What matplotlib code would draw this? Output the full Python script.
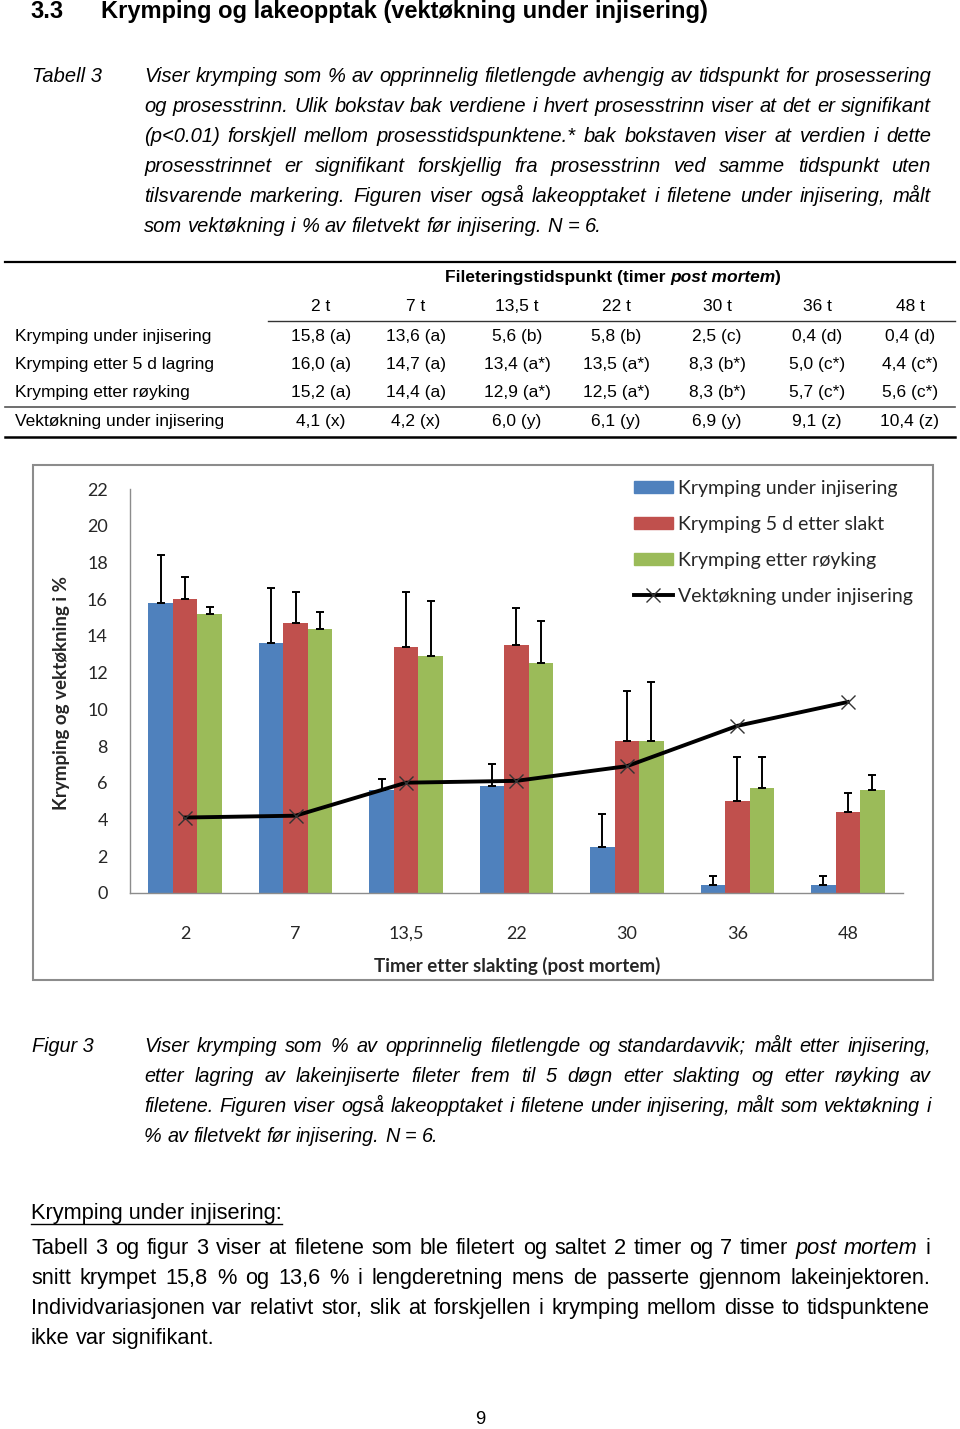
import numpy as np
import matplotlib
matplotlib.use('Agg')
import matplotlib.pyplot as plt
from matplotlib.patches import Rectangle, Patch
from matplotlib.lines import Line2D

# ---- data (tabell 3 / figur 3) ----
tider = ['2', '7', '13,5', '22', '30', '36', '48']
tid_kol = ['2 t', '7 t', '13,5 t', '22 t', '30 t', '36 t', '48 t']
kr_inj = [15.8, 13.6, 5.6, 5.8, 2.5, 0.4, 0.4]
kr_lag = [16.0, 14.7, 13.4, 13.5, 8.3, 5.0, 4.4]
kr_roy = [15.2, 14.4, 12.9, 12.5, 8.3, 5.7, 5.6]
vekt = [4.1, 4.2, 6.0, 6.1, 6.9, 9.1, 10.4]
sd_inj = [2.6, 3.0, 0.6, 1.2, 1.8, 0.5, 0.5]
sd_lag = [1.2, 1.7, 3.0, 2.0, 2.7, 2.4, 1.05]
sd_roy = [0.4, 0.9, 3.0, 2.3, 3.2, 1.7, 0.8]
bok_inj = ['a', 'a', 'b', 'b', 'c', 'd', 'd']
bok_lag = ['a', 'a', 'a*', 'a*', 'b*', 'c*', 'c*']
bok_roy = ['a', 'a', 'a*', 'a*', 'b*', 'c*', 'c*']
bok_vekt = ['x', 'x', 'y', 'y', 'y', 'z', 'z']
rad_navn = ['Krymping under injisering', 'Krymping etter 5 d lagring',
            'Krymping etter røyking', 'Vektøkning under injisering']
leg_navn = ['Krymping under injisering', 'Krymping 5 d etter slakt',
            'Krymping etter røyking', 'Vektøkning under injisering']

tab_tekst = ["Viser krymping som % av opprinnelig filetlengde avhengig av tidspunkt for prosessering",
             "og prosesstrinn. Ulik bokstav bak verdiene i hvert prosesstrinn viser at det er signifikant",
             "(p<0.01) forskjell mellom prosesstidspunktene.* bak bokstaven viser at verdien i dette",
             "prosesstrinnet er signifikant forskjellig fra prosesstrinn ved samme tidspunkt uten",
             "tilsvarende markering. Figuren viser også lakeopptaket i filetene under injisering, målt",
             "som vektøkning i % av filetvekt før injisering. N = 6."]
fig_tekst = ["Viser krymping som % av opprinnelig filetlengde og standardavvik; målt etter injisering,",
             "etter lagring av lakeinjiserte fileter frem til 5 døgn etter slakting og etter røyking av",
             "filetene. Figuren viser også lakeopptaket i filetene under injisering, målt som vektøkning i",
             "% av filetvekt før injisering. N = 6."]
brodtekst = ["Tabell 3 og figur 3 viser at filetene som ble filetert og saltet 2 timer og 7 timer post mortem i",
             "snitt krympet 15,8 % og 13,6 % i lengderetning mens de passerte gjennom lakeinjektoren.",
             "Individvariasjonen var relativt stor, slik at forskjellen i krymping mellom disse to tidspunktene",
             "ikke var signifikant."]

SMAL = ['Liberation Sans Narrow', 'Liberation Sans', 'DejaVu Sans']
ARIAL = ['Liberation Sans', 'DejaVu Sans']
CAL = ['Lato', 'DejaVu Sans']

fig = plt.figure(figsize=(9.6, 14.29), dpi=100)
tx = fig.add_axes([0, 0, 1, 1], zorder=0)
tx.set_xlim(0, 960)
tx.set_ylim(1429, 0)
tx.axis('off')
r = fig.canvas.get_renderer()


def bredde(s, **kw):
    t = tx.text(0, 0, s, **kw)
    w = t.get_window_extent(r).width
    t.remove()
    return w


def tilpass(linjer, mal, fam, style='normal', weight='normal'):
    # font size so that the widest line fits the target width
    w = max(bredde(l, size=10, family=fam, style=style, weight=weight) for l in linjer)
    return 10 * mal / w


def blokk(linjer, x0, x1, y0, dy, size, fam, style='normal', ital=()):
    em = size * 100 / 72
    for i, l in enumerate(linjer):
        yb = round(y0 + i * dy + 0.27 * em)
        ord_ = l.split()
        st = [('italic' if o in ital else style) for o in ord_]
        ws = [bredde(o, size=size, family=fam, style=s) for o, s in zip(ord_, st)]
        if i == len(linjer) - 1:
            gap = bredde('a b', size=size, family=fam, style=style) - bredde('ab', size=size, family=fam, style=style)
        else:
            gap = (x1 - x0 - sum(ws)) / (len(ord_) - 1)
        x = x0
        for o, s, w in zip(ord_, st, ws):
            tx.text(x, yb, o, size=size, family=fam, style=s, va='baseline', ha='left')
            x += w + gap


# ---- overskrift ----
hs = tilpass(['Krymping og lakeopptak (vektøkning under injisering)'], 610, SMAL, weight='bold')
tx.text(30, 12 + 0.27 * hs * 100 / 72, '3.3', size=hs, family=SMAL, weight='bold', va='baseline')
tx.text(101, 12 + 0.27 * hs * 100 / 72, 'Krymping og lakeopptak (vektøkning under injisering)',
        size=hs, family=SMAL, weight='bold', va='baseline')

# ---- tabelltekst ----
cs = tilpass(tab_tekst[:-1], 780, SMAL, style='italic')
tx.text(32, round(77 + 0.27 * cs * 100 / 72), 'Tabell 3', size=cs, family=SMAL, style='italic', va='baseline')
blokk(tab_tekst, 144, 931, 77, 30, cs, SMAL, style='italic')

# ---- tabell ----
ts = 12.5
tx.plot([5, 955], [262, 262], color='black', lw=1.6)
tx.plot([268, 955], [320.5, 320.5], color='#333333', lw=1.0)
tx.plot([5, 955], [406.5, 406.5], color='#555555', lw=1.2)
tx.plot([5, 955], [436.5, 436.5], color='black', lw=1.8)
deler = [('Fileteringstidspunkt (timer ', 'normal'), ('post mortem', 'italic'), (')', 'normal')]
tot = sum(bredde(d, size=ts, family=ARIAL, weight='bold', style=s) for d, s in deler)
x = 613 - tot / 2
for d, s in deler:
    tx.text(x, 277, d, size=ts, family=ARIAL, weight='bold', style=s, va='center', ha='left')
    x += bredde(d, size=ts, family=ARIAL, weight='bold', style=s)
kol_x = [321, 416, 517, 616, 717, 817, 910]
for cx, k in zip(kol_x, tid_kol):
    tx.text(cx, 306, k, size=ts, family=ARIAL, ha='center', va='center')
rad_y = [336, 364, 392, 421]
for yy, navn, verdier, bok in zip(rad_y, rad_navn, [kr_inj, kr_lag, kr_roy, vekt],
                                  [bok_inj, bok_lag, bok_roy, bok_vekt]):
    tx.text(15, yy, navn, size=ts, family=ARIAL, ha='left', va='center')
    for cx, v, b in zip(kol_x, verdier, bok):
        tx.text(cx, yy, f'{v:.1f}'.replace('.', ',') + f' ({b})', size=ts, family=ARIAL,
                ha='center', va='center')

# ---- figur ----
tx.add_patch(Rectangle((32.5, 465), 900, 515, fill=False, ec='#8c8c8c', lw=1.5))
ax = fig.add_axes([130 / 960, 1 - 892.7 / 1429, 773 / 960, 403.4 / 1429], zorder=2)
ax.set_facecolor('none')
x = np.arange(len(tider))
bw = 1 / 4.5
farger = ['#4F81BD', '#C0504D', '#9BBB59']
handles = []
for i, (v, sd, c) in enumerate(zip([kr_inj, kr_lag, kr_roy], [sd_inj, sd_lag, sd_roy], farger)):
    ax.bar(x + (i - 1) * bw, v, bw, color=c, zorder=2)
    ax.errorbar(x + (i - 1) * bw, v, yerr=[np.zeros(len(v)), sd], fmt='none', ecolor='black',
                elinewidth=1.4, capsize=3, capthick=1.4, zorder=3)
    handles.append(Patch(color=c))
ax.plot(x, vekt, color='black', lw=2.8, marker='x', ms=10, mew=1.0, mec='#333333', zorder=4)
handles.append(Line2D([], [], color='black', lw=2.8, marker='x', ms=10, mew=1.0, mec='#333333'))
ax.set_xlim(-0.5, len(tider) - 0.5)
ax.set_ylim(0, 22)
ax.set_yticks(range(0, 23, 2))
ax.set_xticks(x)
ax.set_xticklabels(tider)
for s in ['top', 'right']:
    ax.spines[s].set_visible(False)
for s in ['left', 'bottom']:
    ax.spines[s].set_color('#8c8c8c')
    ax.spines[s].set_linewidth(1.0)
ax.tick_params(axis='both', length=0, labelsize=13, labelcolor='#262626')
ax.tick_params(axis='x', pad=24)
ax.tick_params(axis='y', pad=16)
for lab in ax.get_xticklabels() + ax.get_yticklabels():
    lab.set_family(CAL)
fig.text(62 / 960, 1 - 693 / 1429, 'Krymping og vektøkning i %', rotation=90, ha='center', va='center',
         size=13.5, weight='bold', family=CAL, color='#262626')
fig.text(517 / 960, 1 - 966 / 1429, 'Timer etter slakting (post mortem)', ha='center', va='center',
         size=13.5, weight='bold', family=CAL, color='#262626')
fig.legend(handles, leg_navn, loc='upper left', bbox_to_anchor=(634 / 960, 1 - 480 / 1429),
           frameon=False, prop={'family': CAL, 'size': 14}, handlelength=2.0, handleheight=0.55,
           handletextpad=0.25, labelspacing=0.97, borderpad=0, borderaxespad=0,
           labelcolor='#262626')

# ---- figurtekst ----
fs = tilpass(fig_tekst[:-1], 784, SMAL, style='italic')
tx.text(32, round(1047 + 0.27 * fs * 100 / 72), 'Figur 3', size=fs, family=SMAL, style='italic', va='baseline')
blokk(fig_tekst, 144, 931, 1047, 30, fs, SMAL, style='italic')

# ---- brødtekst ----
bs = tilpass(brodtekst[:-1], 892, SMAL)
tx.text(31, round(1213 + 0.27 * bs * 100 / 72), 'Krymping under injisering:', size=bs, family=SMAL, va='baseline')
uw = bredde('Krymping under injisering:', size=bs, family=SMAL)
tx.plot([31, 31 + uw], [1224, 1224], color='black', lw=1.0)
blokk(brodtekst, 31, 930, 1248, 30, bs, SMAL, ital=('post', 'mortem'))

tx.text(480, 1420, '9', size=bs * 0.85, family=ARIAL, ha='center', va='center')

fig.savefig('out.png', dpi=100, facecolor='white')
